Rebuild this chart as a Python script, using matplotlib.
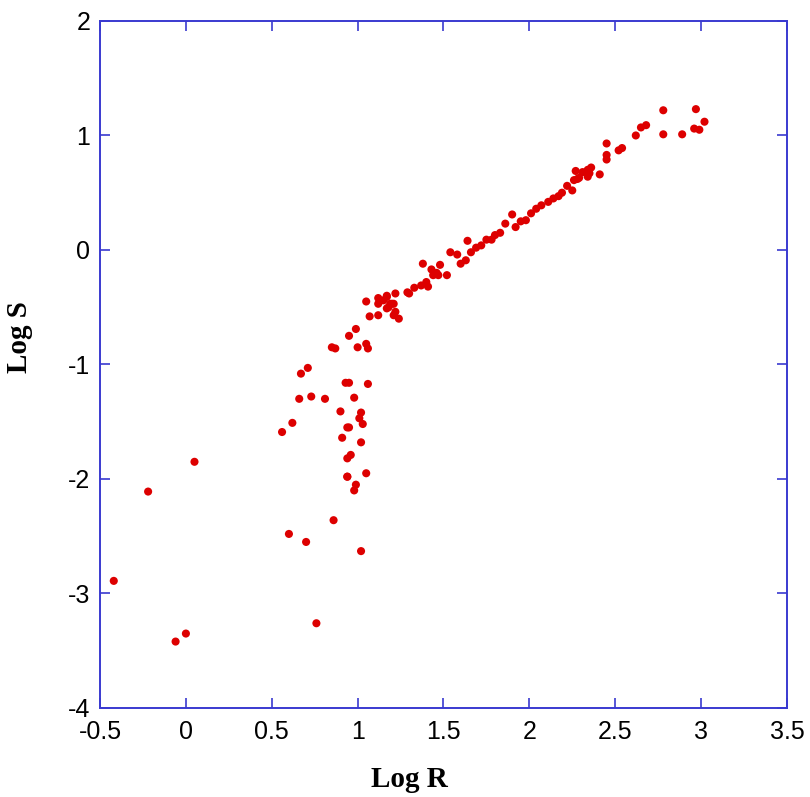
import matplotlib.pyplot as plt

plt.rcParams['axes.unicode_minus'] = False

# Log R / Log S scatter
log_r = [
    -0.42, -0.22, 0.05, -0.06, 0.00,
    0.56, 0.62, 0.60, 0.70, 0.86, 0.76,
    0.66, 0.73, 0.81, 0.67, 0.71,
    0.90, 0.94, 0.91, 0.94, 0.94, 1.02, 0.99, 0.98, 0.96,
    1.01, 1.03, 1.05, 0.95, 1.02, 0.93, 0.98, 1.06, 0.95, 1.02, 0.94,
    0.85, 0.87, 1.00, 1.05, 1.06, 0.99, 0.95, 1.07,
    1.05, 1.12, 1.17, 1.22, 1.29, 1.12, 1.19, 1.21, 1.12, 1.21, 1.24,
    1.18, 1.17, 1.15, 1.20, 1.22, 1.17,
    1.30, 1.33, 1.37, 1.41, 1.40, 1.38, 1.43, 1.47, 1.48, 1.52, 1.44, 1.46,
    1.54, 1.58, 1.60, 1.63, 1.64, 1.66, 1.69, 1.72, 1.75,
    1.78, 1.80, 1.83, 1.86, 1.90, 1.92, 1.95, 1.98,
    2.01, 2.04, 2.07, 2.11, 2.14, 2.17,
    2.19, 2.22, 2.25, 2.26, 2.28, 2.27, 2.29, 2.31, 2.34, 2.36, 2.34, 2.35, 2.41,
    2.45, 2.45, 2.45, 2.52, 2.54, 2.62, 2.65, 2.68,
    2.78, 2.78, 2.89, 2.97, 2.96, 2.99, 3.02,
]
log_s = [
    -2.89, -2.11, -1.85, -3.42, -3.35,
    -1.59, -1.51, -2.48, -2.55, -2.36, -3.26,
    -1.30, -1.28, -1.30, -1.08, -1.03,
    -1.41, -1.55, -1.64, -1.82, -1.98, -1.42, -2.05, -2.10, -1.79,
    -1.47, -1.52, -1.95, -1.16, -1.68, -1.16, -1.29, -1.17, -1.55, -2.63, -1.98,
    -0.85, -0.86, -0.85, -0.82, -0.86, -0.69, -0.75, -0.58,
    -0.45, -0.42, -0.40, -0.38, -0.37, -0.47, -0.47, -0.47, -0.57, -0.57, -0.60,
    -0.50, -0.51, -0.44, -0.47, -0.54, -0.41,
    -0.38, -0.33, -0.31, -0.32, -0.28, -0.12, -0.17, -0.22, -0.13, -0.22, -0.22, -0.20,
    -0.02, -0.04, -0.12, -0.09, 0.08, -0.02, 0.02, 0.04, 0.09,
    0.09, 0.13, 0.15, 0.23, 0.31, 0.20, 0.25, 0.26,
    0.32, 0.36, 0.39, 0.42, 0.45, 0.47,
    0.50, 0.56, 0.52, 0.61, 0.62, 0.69, 0.63, 0.68, 0.70, 0.72, 0.64, 0.67, 0.66,
    0.93, 0.83, 0.79, 0.87, 0.89, 1.00, 1.07, 1.09,
    1.22, 1.01, 1.01, 1.23, 1.06, 1.05, 1.12,
]

x_ticks = [-0.5, 0, 0.5, 1, 1.5, 2, 2.5, 3, 3.5]
x_ticklabels = ['-0.5', '0', '0.5', '1', '1.5', '2', '2.5', '3', '3.5']
y_ticks = [-4, -3, -2, -1, 0, 1, 2]
y_ticklabels = ['-4', '-3', '-2', '-1', '0', '1', '2']

axis_blue = '#3a3ad0'

fig = plt.figure(figsize=(8.1, 7.97), dpi=100)
ax = fig.add_axes([0.1235, 0.1117, 0.848, 0.862])

ax.scatter(log_r, log_s, s=34, color='#dd0000', edgecolors='none', zorder=3)

ax.set_xlim(-0.5, 3.5)
ax.set_ylim(-4, 2)
ax.set_xticks(x_ticks)
ax.set_xticklabels(x_ticklabels)
ax.set_yticks(y_ticks)
ax.set_yticklabels(y_ticklabels)

for sp in ax.spines.values():
    sp.set_color(axis_blue)
    sp.set_linewidth(1.4)

ax.tick_params(direction='in', length=7.5, width=1.2, color=axis_blue,
               top=True, right=True, labelsize=18)
ax.tick_params(axis='x', pad=9)
ax.tick_params(axis='y', pad=7)
for lab in ax.get_xticklabels() + ax.get_yticklabels():
    lab.set_family(['Liberation Sans', 'DejaVu Sans'])

ax.set_xlabel('Log R', fontsize=21, fontweight='bold',
              family=['Liberation Serif', 'DejaVu Serif'])
ax.set_ylabel('Log S', fontsize=21, fontweight='bold',
              family=['Liberation Serif', 'DejaVu Serif'])
ax.xaxis.set_label_coords(0.45, -0.085)
ax.yaxis.set_label_coords(-0.098, 0.54)

fig.savefig('out.png', dpi=100, facecolor='white')
